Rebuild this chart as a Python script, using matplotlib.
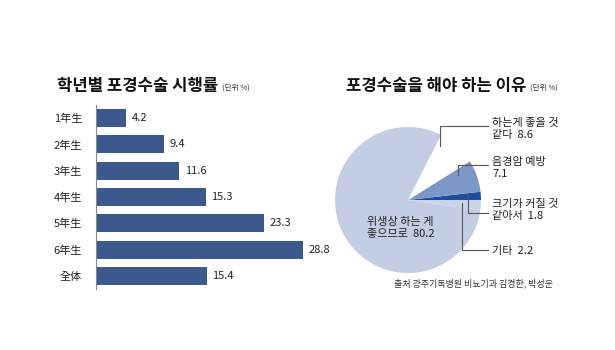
import matplotlib
matplotlib.use('Agg')
import matplotlib.pyplot as plt
from matplotlib.lines import Line2D

plt.rcParams['font.family'] = ['Noto Sans CJK KR', 'DejaVu Sans']

# bar chart data
grades = ['1年生', '2年生', '3年生', '4年生', '5年生', '6年生', '全体']
rates = [4.2, 9.4, 11.6, 15.3, 23.3, 28.8, 15.4]

# pie chart data (counterclockwise from the right)
reasons = ['기타', '크기가 커질 것\n같아서  1.8', '음경암 예방\n7.1',
           '하는게 좋을 것\n같다  8.6', '위생상 하는 게\n좋으므로  80.2']
shares = [2.2, 1.8, 7.1, 8.6, 80.2]
pie_colors = ['#cad4e9', '#1f4c9c', '#7c97c8', '#ffffff', '#c3cee5']

W, H = 615, 350
fig = plt.figure(figsize=(W / 100, H / 100), dpi=100)


def fx(px):
    return px / W


def fy(py):
    return 1 - py / H


def title_with_unit(px, py, text):
    t = fig.text(fx(px), fy(py), text, fontsize=12, fontweight='heavy',
                 va='center', color='#111111')
    fig.canvas.draw()
    bb = t.get_window_extent()
    fig.text(fx(bb.x1 + 4), fy(py + 2), '(단위 %)', fontsize=5.5,
             va='center', color='#333333')


# ---- left: bars
ax = fig.add_axes([fx(96), fy(289), (330 - 96) / W, 184 / H])
ypos = list(range(len(grades)))
bars = ax.barh(ypos, rates, height=0.68, color='#3b598d')
ax.bar_label(bars, labels=[f'{v:.1f}' for v in rates], padding=4,
             fontsize=8, color='#222222')
ax.set_ylim(len(grades) - 0.5, -0.5)
ax.set_xlim(0, 234 / 7.19)
ax.set_yticks(ypos)
ax.set_yticklabels(grades, fontsize=8, color='#222222')
ax.tick_params(axis='y', length=0, pad=10)
ax.set_xticks([])
for s in ['top', 'right', 'bottom']:
    ax.spines[s].set_visible(False)
ax.spines['left'].set_color('#888888')
ax.spines['left'].set_linewidth(0.8)

title_with_unit(57, 86, '학년별 포경수술 시행률')

# ---- right: pie
pax = fig.add_axes([fx(335), fy(273), 146 / W, 146 / H])
pax.pie(shares, colors=pie_colors, startangle=-shares[0] * 3.6,
        counterclock=True, wedgeprops=dict(linewidth=0))
pax.set_xlim(-1, 1)
pax.set_ylim(-1, 1)
pax.set_aspect('equal')

title_with_unit(346, 86, '포경수술을 해야 하는 이유')

# inside label of the largest slice
fig.text(fx(367), fy(228), reasons[4], fontsize=8, va='center',
         linespacing=1.3, color='#222222')

# leader lines and outside labels
leaders = [
    ([440, 440, 488], [146, 126, 126], reasons[3], 129),
    ([458, 458, 488], [175, 165, 165], reasons[2], 168),
    ([468, 468, 488], [194, 213, 213], reasons[1], 210),
    ([462, 462, 488], [203, 250, 250], f'{reasons[0]}  {shares[0]:.1f}', 251),
]
for xs, ys, label, ty in leaders:
    fig.add_artist(Line2D([fx(x) for x in xs], [fy(y) for y in ys],
                          transform=fig.transFigure, color='#555555',
                          lw=0.8))
    fig.text(fx(492), fy(ty), label, fontsize=8, va='center',
             linespacing=1.3, color='#222222')

fig.text(fx(394), fy(283), '출처 광주기독병원 비뇨기과 김경한, 박성운',
         fontsize=6.5, va='center', color='#333333')

fig.savefig('out.png', dpi=100)
